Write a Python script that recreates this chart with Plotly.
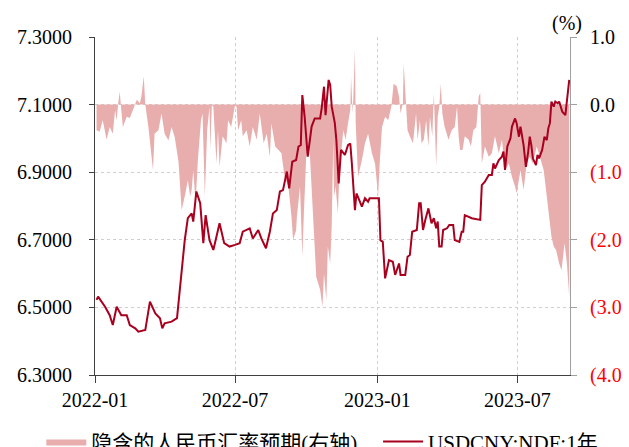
import plotly.graph_objects as go

# USDCNY:NDF:1年 (left axis)
line_dates = [
    "2022-01-03","2022-01-05","2022-01-14","2022-01-20","2022-01-24","2022-01-29","2022-02-04","2022-02-11",
    "2022-02-15","2022-02-22","2022-02-26","2022-03-07","2022-03-13","2022-03-20","2022-03-26","2022-03-29",
    "2022-04-01","2022-04-10","2022-04-17","2022-04-25","2022-04-27","2022-05-01","2022-05-06","2022-05-08",
    "2022-05-12","2022-05-17","2022-05-21","2022-05-24","2022-05-29","2022-06-03","2022-06-07","2022-06-11",
    "2022-06-17","2022-06-24","2022-07-01","2022-07-07","2022-07-11","2022-07-20","2022-07-24","2022-07-31",
    "2022-08-04","2022-08-10","2022-08-15","2022-08-19","2022-08-24","2022-08-28","2022-09-01","2022-09-06",
    "2022-09-09","2022-09-13","2022-09-18","2022-09-21","2022-09-24","2022-09-26","2022-09-29","2022-10-03",
    "2022-10-08","2022-10-12","2022-10-19","2022-10-21","2022-10-24","2022-10-26","2022-10-30","2022-11-01",
    "2022-11-03","2022-11-07","2022-11-09","2022-11-12","2022-11-15","2022-11-20","2022-11-24","2022-11-27",
    "2022-11-29","2022-12-03","2022-12-05","2022-12-12","2022-12-16","2022-12-20","2022-12-22","2023-01-03",
    "2023-01-05","2023-01-08","2023-01-11","2023-01-16","2023-01-21","2023-01-24","2023-01-29","2023-01-31",
    "2023-02-06","2023-02-09","2023-02-12","2023-02-15","2023-02-21","2023-02-24","2023-02-26","2023-03-01",
    "2023-03-04","2023-03-08","2023-03-12","2023-03-15","2023-03-18","2023-03-20","2023-03-22","2023-03-25",
    "2023-03-27","2023-04-01","2023-04-04","2023-04-09","2023-04-11","2023-04-17","2023-04-20","2023-04-22",
    "2023-04-24","2023-04-29","2023-05-03","2023-05-14","2023-05-16","2023-05-20","2023-05-25","2023-05-29",
    "2023-05-31","2023-06-02","2023-06-07","2023-06-11","2023-06-13","2023-06-15","2023-06-18","2023-06-22",
    "2023-06-24","2023-06-28","2023-06-30","2023-07-03","2023-07-05","2023-07-09","2023-07-12","2023-07-15",
    "2023-07-17","2023-07-19","2023-07-21","2023-07-25","2023-07-27","2023-07-29","2023-08-02","2023-08-05",
    "2023-08-08","2023-08-10","2023-08-12","2023-08-14","2023-08-17","2023-08-19","2023-08-22","2023-08-24",
    "2023-08-26","2023-08-28","2023-09-01","2023-09-04","2023-09-06",
]
line_values = [
    6.522,6.532,6.502,6.477,6.448,6.502,6.477,6.477,
    6.448,6.438,6.428,6.433,6.517,6.482,6.468,6.438,
    6.453,6.458,6.468,6.670,6.699,6.764,6.778,6.754,
    6.843,6.808,6.690,6.773,6.699,6.670,6.709,6.749,
    6.690,6.680,6.685,6.690,6.724,6.734,6.704,6.729,
    6.704,6.675,6.724,6.778,6.788,6.843,6.847,6.902,
    6.852,6.931,6.936,6.976,6.980,7.128,7.064,6.946,
    7.035,7.059,7.059,7.089,7.153,7.069,7.173,7.158,
    7.094,7.045,6.995,6.867,6.966,6.951,6.980,6.985,
    6.926,6.788,6.837,6.798,6.823,6.813,6.823,6.823,
    6.699,6.694,6.586,6.640,6.635,6.596,6.630,6.596,
    6.596,6.650,6.655,6.724,6.729,6.808,6.808,6.729,
    6.759,6.793,6.749,6.764,6.734,6.754,6.680,6.680,
    6.729,6.734,6.744,6.744,6.699,6.694,6.724,6.724,
    6.773,6.768,6.764,6.759,6.862,6.872,6.892,6.892,
    6.926,6.911,6.936,6.946,6.961,6.907,6.976,7.000,
    7.035,7.059,7.045,7.005,7.035,6.980,6.916,6.961,
    7.005,6.980,6.941,6.921,6.951,6.941,6.966,7.005,
    6.995,7.030,7.045,7.109,7.094,7.109,7.104,7.109,
    7.094,7.079,7.069,7.123,7.173,
]

# 隐含的人民币汇率预期 (right axis, %)
area_dates = [
    "2022-01-03","2022-01-07","2022-01-11","2022-01-16","2022-01-20","2022-01-24","2022-01-27","2022-01-29",
    "2022-01-31","2022-02-02","2022-02-04","2022-02-06","2022-02-11","2022-02-15","2022-02-19","2022-02-24",
    "2022-02-28","2022-03-02","2022-03-05","2022-03-07","2022-03-11","2022-03-14","2022-03-17","2022-03-19",
    "2022-03-24","2022-03-28","2022-04-01","2022-04-06","2022-04-10","2022-04-14","2022-04-19","2022-04-21",
    "2022-04-23","2022-04-27","2022-05-01","2022-05-04","2022-05-06","2022-05-08","2022-05-11","2022-05-14",
    "2022-05-18","2022-05-20","2022-05-23","2022-05-26","2022-05-29","2022-05-30","2022-06-01","2022-06-03",
    "2022-06-05","2022-06-07","2022-06-09","2022-06-11","2022-06-15","2022-06-20","2022-06-22","2022-06-26",
    "2022-07-01","2022-07-03","2022-07-05","2022-07-09","2022-07-11","2022-07-16","2022-07-20","2022-07-24",
    "2022-07-29","2022-08-02","2022-08-07","2022-08-11","2022-08-15","2022-08-17","2022-08-22","2022-08-26",
    "2022-08-30","2022-09-03","2022-09-08","2022-09-12","2022-09-14","2022-09-18","2022-09-19","2022-09-23",
    "2022-09-25","2022-09-26","2022-09-28","2022-10-01","2022-10-05","2022-10-08","2022-10-12","2022-10-14",
    "2022-10-19","2022-10-22","2022-10-24","2022-10-27","2022-10-29","2022-11-01","2022-11-03","2022-11-05",
    "2022-11-06","2022-11-08","2022-11-11","2022-11-13","2022-11-18","2022-11-21","2022-11-24","2022-11-27",
    "2022-11-28","2022-11-30","2022-12-01","2022-12-03","2022-12-04","2022-12-07","2022-12-12","2022-12-16",
    "2022-12-20","2022-12-25","2022-12-29","2023-01-02","2023-01-04","2023-01-07","2023-01-11","2023-01-15",
    "2023-01-19","2023-01-22","2023-01-26","2023-01-29","2023-01-31","2023-02-03","2023-02-04","2023-02-07",
    "2023-02-09","2023-02-12","2023-02-16","2023-02-20","2023-02-22","2023-02-25","2023-02-27","2023-03-02",
    "2023-03-05","2023-03-08","2023-03-10","2023-03-13","2023-03-15","2023-03-18","2023-03-20","2023-03-22",
    "2023-03-24","2023-03-26","2023-03-29","2023-04-03","2023-04-07","2023-04-11","2023-04-14","2023-04-16",
    "2023-04-18","2023-04-21","2023-04-24","2023-04-29","2023-05-02","2023-05-05","2023-05-09","2023-05-12",
    "2023-05-14","2023-05-16","2023-05-20","2023-05-25","2023-05-29","2023-06-02","2023-06-07","2023-06-11",
    "2023-06-15","2023-06-20","2023-06-24","2023-06-28","2023-06-30","2023-07-05","2023-07-09","2023-07-13",
    "2023-07-17","2023-07-21","2023-07-26","2023-07-30","2023-08-04","2023-08-08","2023-08-11","2023-08-14",
    "2023-08-17","2023-08-20","2023-08-24","2023-08-27","2023-08-31","2023-09-03","2023-09-06",
]
area_values = [
    -0.38,-0.40,-0.23,-0.52,-0.33,-0.43,-0.08,-0.23,
    0.02,0.19,-0.08,-0.33,-0.18,-0.20,-0.08,0.07,
    0.02,0.12,0.42,0.00,-0.33,-0.62,-0.97,-0.43,
    -0.38,-0.13,-0.43,-0.53,-0.33,-0.48,-0.85,-1.21,
    -1.56,-1.36,-1.12,-1.36,-1.26,-0.97,-1.46,-0.82,
    -0.23,-0.13,-1.36,-0.38,-0.03,-0.67,-0.01,-0.03,
    -0.38,-0.87,-0.38,-0.92,-0.47,-0.57,-0.23,-0.33,
    -0.01,-0.03,-0.38,-0.23,-0.47,-0.38,-0.62,-0.33,
    -0.52,-0.13,-0.57,-0.43,-0.77,-0.28,-0.62,-0.67,
    -0.72,-1.07,-1.21,-1.66,-2.00,-1.86,-1.66,-1.21,
    -1.86,-2.25,-1.61,-0.77,-0.57,-1.26,-2.10,-2.55,
    -2.74,-2.99,-2.50,-2.89,-2.10,-2.35,-1.80,-0.52,
    -1.36,-1.21,-1.61,-0.97,-0.38,-0.52,-0.28,-0.08,
    0.41,-0.13,0.12,0.81,-0.28,-1.07,-0.82,-0.57,
    -0.43,-0.72,-0.87,-1.36,-0.87,-0.33,-0.18,-0.23,
    -0.03,0.31,0.27,0.12,-0.13,0.02,0.61,-0.08,
    -0.38,-0.47,-0.57,-0.13,-0.52,-0.23,-0.57,-0.52,
    -0.23,-0.62,-0.18,-0.47,0.17,-0.92,-0.18,-0.03,
    0.31,-0.13,-0.33,-0.52,-0.38,-0.33,-0.03,-0.47,
    -0.67,-0.67,-0.47,-0.52,-0.62,-0.38,-0.33,0.12,
    0.17,-0.87,-0.62,-0.77,-0.72,-0.47,-0.72,-0.52,
    -0.97,-0.87,-1.07,-1.21,-1.31,-0.97,-1.26,-0.87,
    -0.77,-0.87,-0.62,-0.77,-0.97,-1.36,-1.66,-1.95,
    -2.10,-2.15,-2.35,-2.45,-2.05,-2.35,-2.84,
]

left_ticks = [6.3, 6.5, 6.7, 6.9, 7.1, 7.3]
right_ticks = [-4, -3, -2, -1, 0, 1]
right_labels = ["(4.0)", "(3.0)", "(2.0)", "(1.0)", "0.0", "1.0"]
x_ticks = ["2022-01-01", "2022-07-01", "2023-01-01", "2023-07-01"]

AREA_COLOR = "#E8AEAE"
LINE_COLOR = "#A8001E"
FONT = "Liberation Serif, Times New Roman, Noto Sans CJK SC, serif"

fig = go.Figure()
fig.add_trace(go.Scatter(
    x=area_dates, y=area_values,
    name="隐含的人民币汇率预期(右轴)\u00a0\u00a0\u00a0",
    mode="lines", fill="tozeroy", fillcolor=AREA_COLOR,
    line=dict(width=0, color=AREA_COLOR), yaxis="y",
))
fig.add_trace(go.Scatter(
    x=line_dates, y=line_values, name="USDCNY:NDF:1年",
    mode="lines", line=dict(width=2, color=LINE_COLOR), yaxis="y2",
))

tick_text = []
for v, t in zip(right_ticks, right_labels):
    if v < 0:
        tick_text.append('<span style="color:#FF0000">' + t + '</span>')
    else:
        tick_text.append(t)

# the page adds an 8px body margin, so the figure is sized/offset to compensate
fig.update_layout(
    width=621, height=439,
    margin=dict(l=87, r=59, t=29, b=72, autoexpand=False),
    paper_bgcolor="white", plot_bgcolor="white",
    font=dict(family=FONT, size=20, color="#000000"),
    showlegend=True,
    legend=dict(
        orientation="h", x=-0.113, y=-0.137, xanchor="left", yanchor="top",
        font=dict(size=21), itemwidth=40, tracegroupgap=0,
        bgcolor="rgba(0,0,0,0)",
    ),
    xaxis=dict(
        type="date", range=["2022-01-01", "2023-09-07"],
        tickvals=x_ticks, tickformat="%Y-%m",
        showgrid=True, gridcolor="#CFCFCF", griddash="dot", gridwidth=1,
        showline=True, linecolor="#404040", linewidth=1,
        ticks="outside", ticklen=7, tickcolor="#404040",
        ticklabelstandoff=0, zeroline=False,
    ),
    yaxis=dict(
        side="right", range=[-4, 1], tickvals=right_ticks, ticktext=tick_text,
        showgrid=True, gridcolor="#CFCFCF", griddash="dot", gridwidth=1,
        showline=True, linecolor="#A0A0A0", linewidth=1,
        ticks="outside", ticklen=6, tickcolor="#A0A0A0",
        ticklabelstandoff=9, zeroline=False,
    ),
    yaxis2=dict(
        side="left", overlaying="y", range=[6.3, 7.3], tickvals=left_ticks,
        tickformat=".4f", showgrid=False,
        showline=True, linecolor="#404040", linewidth=1,
        ticks="outside", ticklen=5, tickcolor="#404040",
        ticklabelstandoff=13, zeroline=False,
    ),
    annotations=[dict(
        text="(%)", xref="paper", yref="paper", x=0.9937, y=1.0385,
        xanchor="center", yanchor="middle", showarrow=False,
        font=dict(size=20, family=FONT),
    )],
)

fig.write_html("out.html")
